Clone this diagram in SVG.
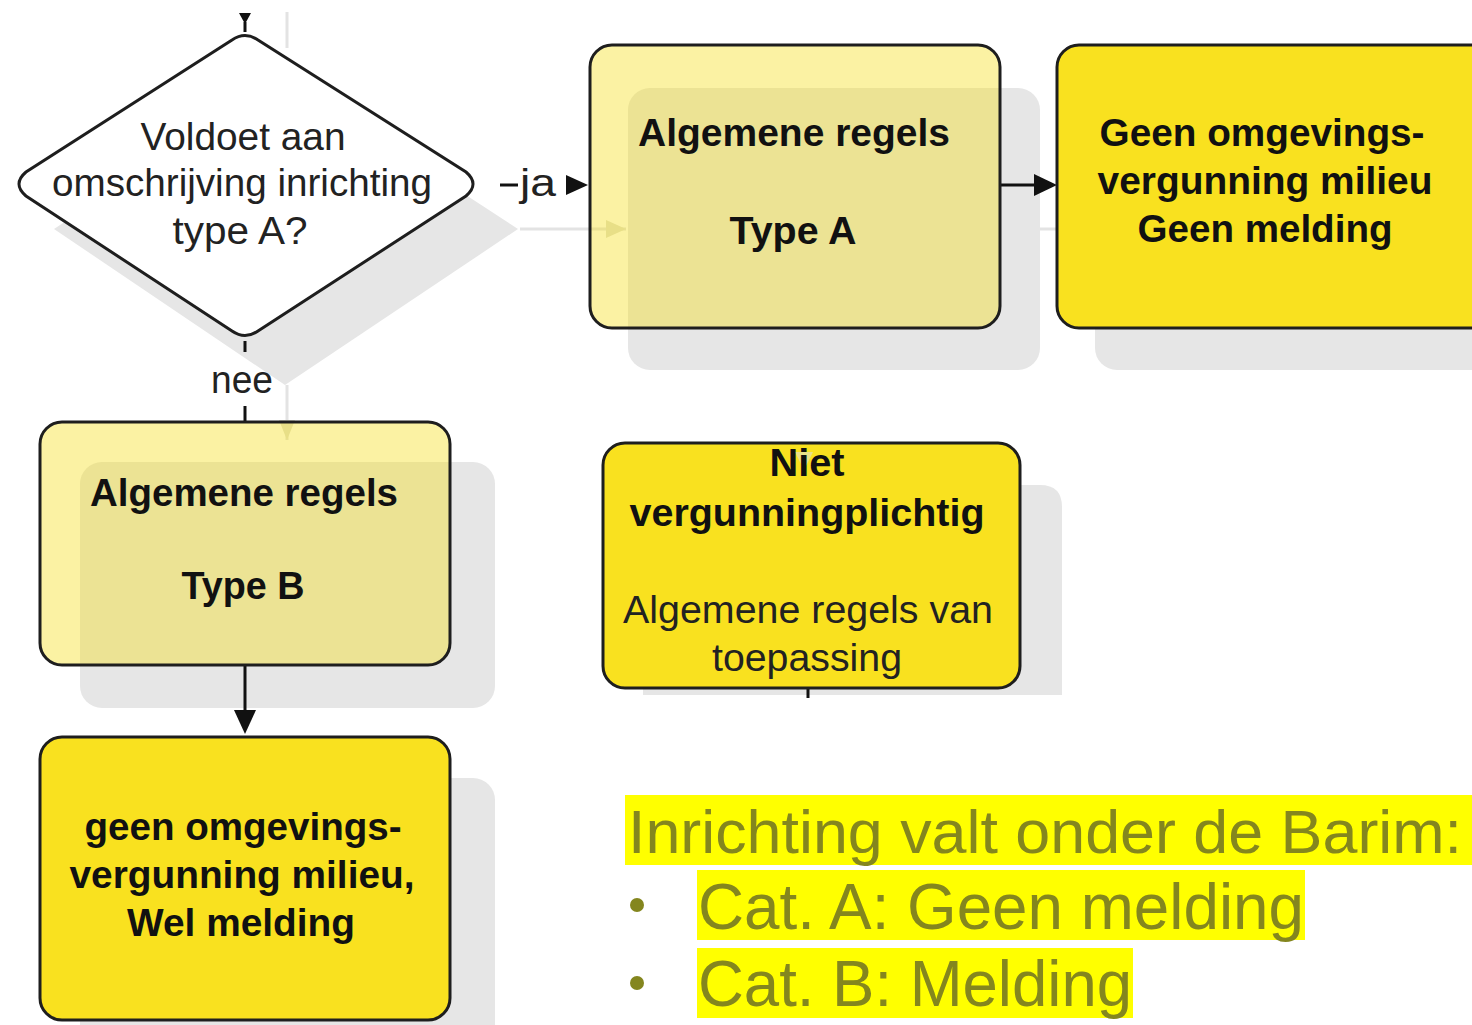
<svg xmlns="http://www.w3.org/2000/svg" width="1472" height="1025" viewBox="0 0 1472 1025">
<defs>
<style>
.sh{fill:#e6e6e6}
.shl{stroke:#e3e3e3;stroke-width:3;fill:none}
.sha{fill:#e0e0d0}
.box{stroke:#1e1e1e;stroke-width:3}
.lite{fill:#f5de19;fill-opacity:0.4}
.gold{fill:#f9e11f}
.b{font-family:"Liberation Sans",Arial,sans-serif;font-weight:bold;font-size:38px;fill:#111;text-anchor:middle}
.r{font-family:"Liberation Sans",Arial,sans-serif;font-size:38px;fill:#222;text-anchor:middle}
.con{stroke:#111;stroke-width:3;fill:none}
.ah{fill:#111}
.big{font-family:"Liberation Sans",Arial,sans-serif;font-size:64px;fill:#84861e}
.hl{fill:#ffff00}
</style>
</defs>

<g id="shadows">
<path class="sh" d="M285,77 L518,229 L285,385 L54,229 Z"/>
<rect class="sh" x="628" y="88" width="412" height="282" rx="22"/>
<rect class="sh" x="1095" y="88" width="415" height="282" rx="22"/>
<rect class="sh" x="80" y="462" width="415" height="246" rx="22"/>
<rect class="sh" x="80" y="778" width="415" height="282" rx="22"/>
<path class="sh" d="M643,485 H1040 Q1062,485 1062,507 V695 H643 Z"/>
</g>

<g id="shadow-connectors">
<line class="shl" x1="287" y1="12" x2="287" y2="48"/>
<line class="shl" x1="287" y1="385" x2="287" y2="440"/>
<line class="shl" x1="520" y1="229" x2="626" y2="229"/>
<line class="shl" x1="1040" y1="229" x2="1094" y2="229"/>
<polygon class="sha" points="279,420 295,420 287,440"/>
<polygon class="sha" points="606,220 606,238 626,229"/>
<polygon class="sha" points="1074,220 1074,238 1094,229"/>
</g>

<g id="connectors">
<polygon class="ah" points="239,13 251,13 245,24"/>
<line class="con" x1="245" y1="22" x2="245" y2="32"/>
<line class="con" x1="500" y1="185" x2="518" y2="185"/>
<text class="r" x="538" y="196" textLength="36" lengthAdjust="spacingAndGlyphs">ja</text>
<polygon class="ah" points="566,175 566,195 588,185"/>
<line class="con" x1="245" y1="341" x2="245" y2="352"/>
<text class="r" x="242" y="393" textLength="62" lengthAdjust="spacingAndGlyphs">nee</text>
<line class="con" x1="245" y1="406" x2="245" y2="422"/>
<line class="con" x1="1000" y1="185" x2="1036" y2="185"/>
<polygon class="ah" points="1034,174 1034,196 1057,185"/>
<line class="con" x1="245" y1="665" x2="245" y2="712"/>
<polygon class="ah" points="234,710 256,710 245,734"/>
<line class="con" x1="808" y1="688" x2="808" y2="698"/>
</g>

<g id="n-diamond">
<path d="M232,40 Q245,31 258,40 L466,172 Q480,184 466,196 L258,331 Q245,340 232,331 L26,196 Q12,184 26,172 Z" fill="#ffffff" stroke="#1e1e1e" stroke-width="3"/>
<text class="r" x="243" y="150" textLength="205" lengthAdjust="spacingAndGlyphs">Voldoet aan</text>
<text class="r" x="242" y="196" textLength="380" lengthAdjust="spacingAndGlyphs">omschrijving inrichting</text>
<text class="r" x="240" y="244" textLength="135" lengthAdjust="spacingAndGlyphs">type A?</text>
</g>

<g id="n-typeA">
<rect class="box lite" x="590" y="45" width="410" height="283" rx="22"/>
<text class="b" x="794" y="146" textLength="312" lengthAdjust="spacingAndGlyphs">Algemene regels</text>
<text class="b" x="793" y="244" textLength="127" lengthAdjust="spacingAndGlyphs">Type A</text>
</g>

<g id="n-geen-melding">
<rect class="box gold" x="1057" y="45" width="440" height="283" rx="22"/>
<text class="b" x="1262" y="146" textLength="325" lengthAdjust="spacingAndGlyphs">Geen omgevings-</text>
<text class="b" x="1265" y="194" textLength="335" lengthAdjust="spacingAndGlyphs">vergunning milieu</text>
<text class="b" x="1265" y="242" textLength="255" lengthAdjust="spacingAndGlyphs">Geen melding</text>
</g>

<g id="n-typeB">
<rect class="box lite" x="40" y="422" width="410" height="243" rx="22"/>
<text class="b" x="244" y="506" textLength="308" lengthAdjust="spacingAndGlyphs">Algemene regels</text>
<text class="b" x="243" y="599" textLength="123" lengthAdjust="spacingAndGlyphs">Type B</text>
</g>

<g id="n-wel-melding">
<rect class="box gold" x="40" y="737" width="410" height="283" rx="22"/>
<text class="b" x="243" y="840" textLength="317" lengthAdjust="spacingAndGlyphs">geen omgevings-</text>
<text class="b" x="242" y="888" textLength="345" lengthAdjust="spacingAndGlyphs">vergunning milieu,</text>
<text class="b" x="241" y="936" textLength="228" lengthAdjust="spacingAndGlyphs">Wel melding</text>
</g>

<g id="n-niet">
<rect class="box gold" x="603" y="443" width="417" height="245" rx="22"/>
<polygon class="sha" points="795,452 813,452 804,470" opacity="0.6"/>
<text class="b" x="807" y="476" textLength="75" lengthAdjust="spacingAndGlyphs">Niet</text>
<text class="b" x="807" y="526" textLength="355" lengthAdjust="spacingAndGlyphs">vergunningplichtig</text>
<text class="r" x="808" y="623" textLength="370" lengthAdjust="spacingAndGlyphs">Algemene regels van</text>
<text class="r" x="807" y="671" textLength="190" lengthAdjust="spacingAndGlyphs">toepassing</text>
</g>

<g id="legend">
<rect class="hl" x="625" y="795" width="847" height="70"/>
<rect class="hl" x="697" y="870" width="608" height="70"/>
<rect class="hl" x="697" y="948" width="436" height="70"/>
<text class="big" x="628" y="853" font-size="62" textLength="834" lengthAdjust="spacingAndGlyphs" style="font-size:62px">Inrichting valt onder de Barim:</text>
<circle cx="637" cy="905" r="7" fill="#84861e"/>
<text class="big" x="698" y="929" textLength="606" lengthAdjust="spacingAndGlyphs">Cat. A: Geen melding</text>
<circle cx="637" cy="983" r="7" fill="#84861e"/>
<text class="big" x="698" y="1006" textLength="434" lengthAdjust="spacingAndGlyphs">Cat. B: Melding</text>
</g>
</svg>
